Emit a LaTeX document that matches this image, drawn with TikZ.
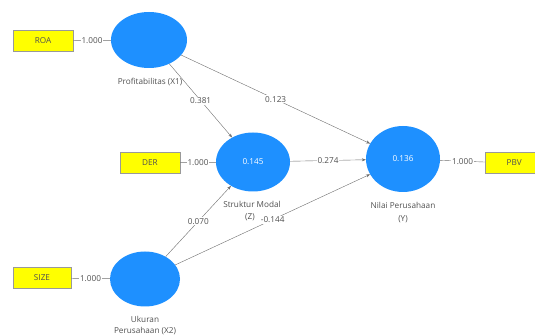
\documentclass[tikz,border=0pt]{standalone}
\usepackage{fontspec}
\setmainfont{Open Sans}
\usetikzlibrary{arrows.meta,shapes.geometric}
\definecolor{lv}{RGB}{30,144,255}
\definecolor{ind}{RGB}{255,255,0}
\definecolor{txt}{RGB}{80,80,80}
\definecolor{ln}{RGB}{110,110,110}
\begin{document}
\begin{tikzpicture}[x=1pt,y=-1pt,
  latent/.style={ellipse,fill=lv,draw=none,inner sep=0pt,font=\fontsize{8.2}{9.5}\selectfont,text=white},
  indbox/.style={rectangle,fill=ind,draw=black!40,line width=0.3pt,minimum width=60pt,minimum height=21pt,inner sep=0pt,font=\fontsize{8.2}{9.5}\selectfont,text=txt},
  lbl/.style={font=\fontsize{8.2}{9.5}\selectfont,text=txt,align=center,inner sep=0pt},
  wl/.style={fill=white,font=\fontsize{8.2}{9.5}\selectfont,text=txt,inner sep=1pt},
  path/.style={draw=ln,line width=0.4pt,-{Stealth[length=4pt,width=3pt]}},
  meas/.style={draw=ln,line width=0.4pt}]
\useasboundingbox (0,0) rectangle (535,336);
% latent variables
\node[latent, minimum width=76pt, minimum height=56pt] (X1) at (149,40) {};
\node[latent, minimum width=74pt, minimum height=59pt] (Z) at (253,162) {0.145};
\node[latent, minimum width=74pt, minimum height=66pt] (Y) at (403,159) {0.136};
\node[latent, minimum width=70pt, minimum height=55pt] (X2) at (145,279) {};
% labels
\node[lbl] (lX1) at (150,82) {Profitabilitas (X1)};
\node[lbl] (lZ1) at (252,204) {Struktur Modal};
\node[lbl] (lZ2) at (250,217) {(Z)};
\node[lbl] (lY1) at (403,205) {Nilai Perusahaan};
\node[lbl] (lY2) at (403,219) {(Y)};
\node[lbl] (lX21) at (145,319) {Ukuran};
\node[lbl] (lX22) at (145,331) {Perusahaan (X2)};
% indicators
\node[indbox] (ROA) at (43,41) {ROA};
\node[indbox] (DER) at (150,163) {DER};
\node[indbox, minimum width=52pt, anchor=west] (PBV) at (485,163) {\hspace*{6pt}PBV};
\node[indbox, minimum width=58pt] (SIZE) at (42,278) {SIZE};
% measurement lines
\draw[meas] (ROA) -- node[wl] (w1) {1.000} (X1);
\draw[meas] (DER) -- node[wl] (w2) {1.000} (Z);
\draw[meas] (Y) -- node[wl] (w3) {1.000} (PBV);
\draw[meas] (SIZE) -- node[wl] (w4) {1.000} (X2);
% structural paths
\draw[path] (X1) -- node[wl] (p1) {0.381} (Z);
\draw[path] (X1) -- node[wl] (p2) {0.123} (Y);
\draw[path] (Z) -- node[wl] (p3) {0.274} (Y);
\draw[path] (X2) -- node[wl] (p4) {0.070} (Z);
\draw[path] (X2) -- node[wl,pos=0.5] (p5) {-0.144} (Y);
\end{tikzpicture}
\end{document}
